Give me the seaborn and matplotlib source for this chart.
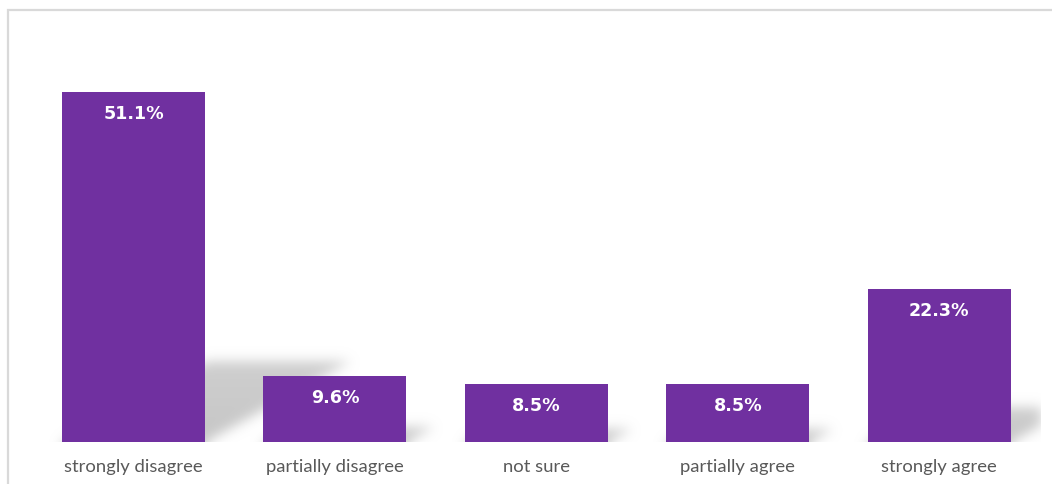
import numpy as np
import pandas as pd
import matplotlib
matplotlib.use("Agg")
import matplotlib.pyplot as plt
from matplotlib.patches import Rectangle
import seaborn as sns

categories = ["strongly disagree", "partially disagree", "not sure",
              "partially agree", "strongly agree"]
values = [51.1, 9.6, 8.5, 8.5, 22.3]
labels = ["51.1%", "9.6%", "8.5%", "8.5%", "22.3%"]

BAR_COLOR = "#7030A0"
BAR_WIDTH = 0.71
Y_MAX = 60.0

sns.set_theme(style="white")
plt.rcParams["font.family"] = ["DejaVu Sans"]

W, H = 1052, 485
fig = plt.figure(figsize=(W / 100, H / 100), dpi=100)
fig.patch.set_facecolor("white")

# chart frame (only top and left edges fall inside the canvas)
fig.add_artist(Rectangle((7.5 / W, -0.2), 1.2, (H - 10.5) / H + 0.2,
                         transform=fig.transFigure, fill=False,
                         edgecolor="#d9d9d9", linewidth=1.6, zorder=0))

ax_left, ax_right = 32.75, 1040.0
base_y, top_y = 443.0, 443.0 - Y_MAX * 6.849
ax = fig.add_axes([ax_left / W, (H - base_y) / H,
                   (ax_right - ax_left) / W, (base_y - top_y) / H])
ax.set_facecolor("none")

df = pd.DataFrame({"category": categories, "value": values})
sns.barplot(data=df, x="category", y="value", color=BAR_COLOR,
            saturation=1, width=BAR_WIDTH, ax=ax, zorder=3,
            linewidth=0, edgecolor=BAR_COLOR)

# blurred perspective shadows cast to the upper right of each bar
nx, ny = 1008, 412
pad = 30
xs = np.linspace(-0.5, 4.5, nx)
px_per_unit_y = ny / Y_MAX
ys = (np.arange(-pad, ny) + 0.5) / px_per_unit_y
X, Y = np.meshgrid(xs, ys)
mask = np.zeros_like(X)
for i, v in enumerate(values):
    h = 0.231 * v
    dx = 0.0141 * v
    t = np.clip(Y / h, 0, None)
    xl = i - BAR_WIDTH / 2 + t * dx
    xr = i + BAR_WIDTH / 2 + t * dx
    inside = (t <= 1) & (X >= xl) & (X <= xr)
    shade = np.where(inside, 1.0 - 0.15 * t, 0.0)
    mask = np.maximum(mask, shade)


def blur(a, sigma):
    r = int(3 * sigma)
    k = np.exp(-0.5 * (np.arange(-r, r + 1) / sigma) ** 2)
    k /= k.sum()
    a = np.apply_along_axis(lambda row: np.convolve(row, k, mode="same"), 1, a)
    a = np.apply_along_axis(lambda col: np.convolve(col, k, mode="same"), 0, a)
    return a


mask = blur(mask, 6.0)[pad:]
rgba = np.zeros((ny, nx, 4))
rgba[..., :3] = 0.78
rgba[..., 3] = np.clip(mask, 0, 1)
ax.imshow(rgba, extent=(-0.5, 4.5, 0, Y_MAX), origin="lower",
          aspect="auto", interpolation="bilinear", zorder=1)

# value labels inside the top of each bar
for i, (v, lab) in enumerate(zip(values, labels)):
    ax.annotate(lab, xy=(i, v), xytext=(0, -15), textcoords="offset points",
                ha="center", va="center", color="white",
                fontsize=12.6, fontweight="bold", family="DejaVu Sans",
                zorder=4)

ax.set_xlim(-0.5, 4.5)
ax.set_ylim(0, Y_MAX)
ax.set_xlabel("")
ax.set_ylabel("")
ax.set_yticks([])
for s in ax.spines.values():
    s.set_visible(False)
ax.tick_params(axis="x", length=0, pad=11.5, labelsize=13.3,
               labelcolor="#595959")
for t in ax.get_xticklabels():
    t.set_family("Lato")

fig.savefig("out.png", dpi=100, facecolor="white")
